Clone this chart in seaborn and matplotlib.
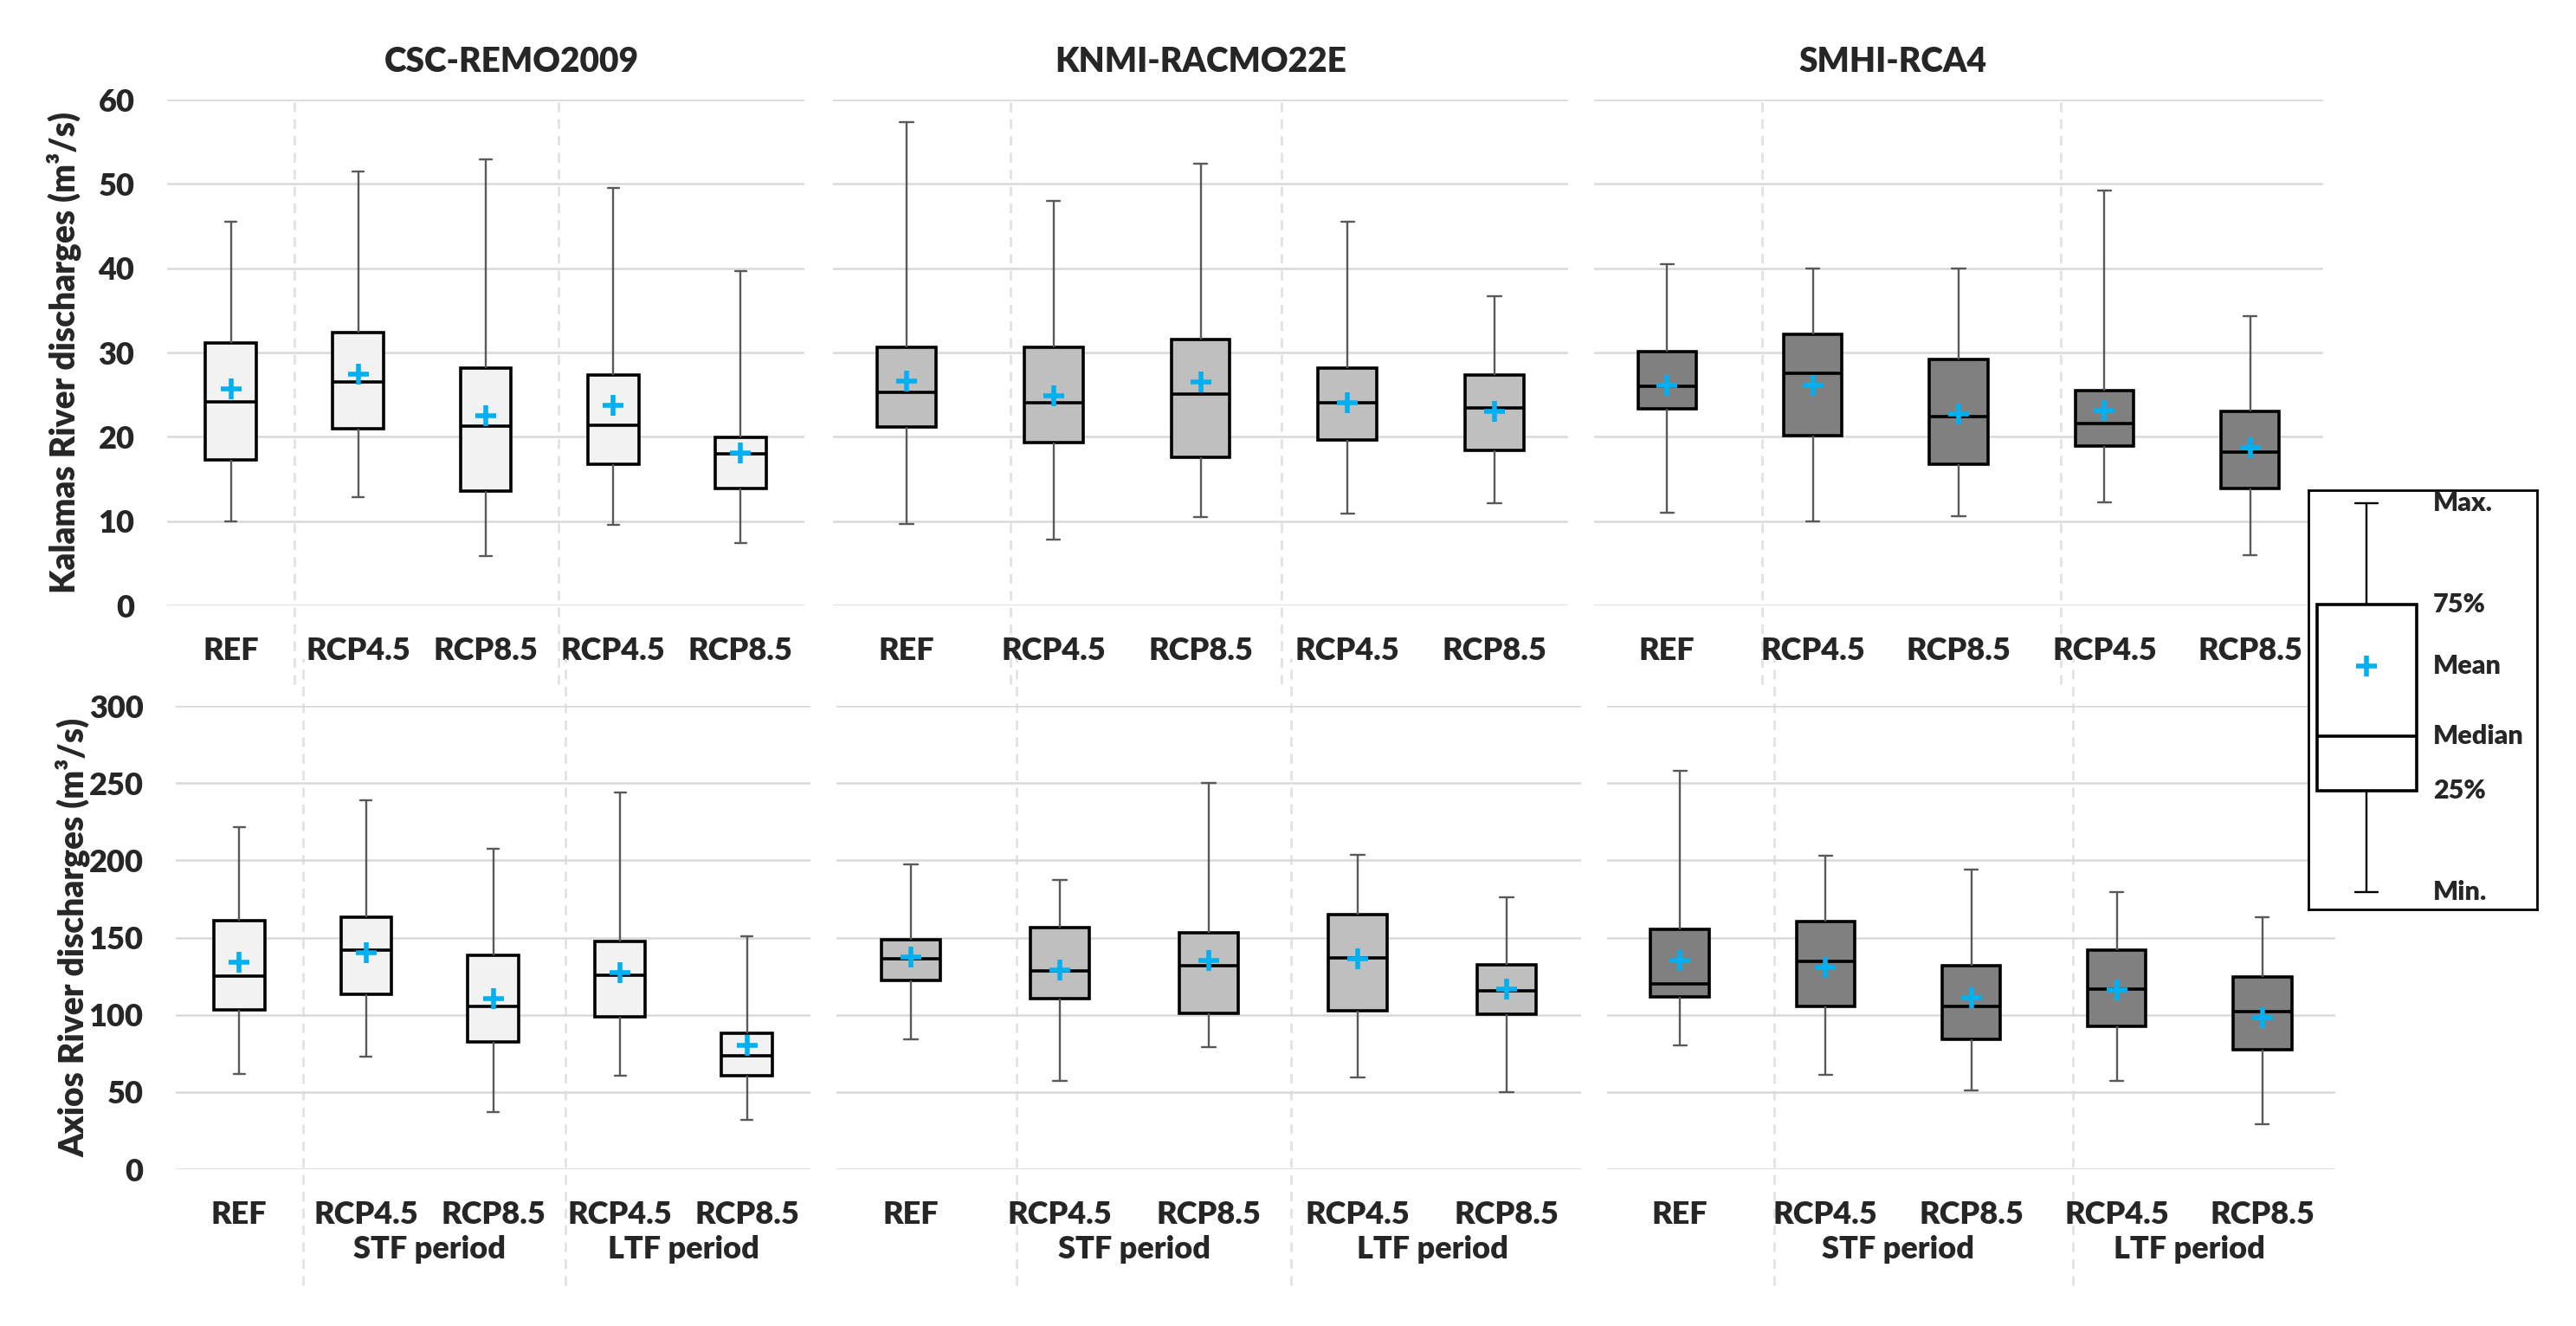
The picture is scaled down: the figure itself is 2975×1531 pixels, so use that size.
import pandas as pd
import matplotlib.pyplot as plt
import seaborn as sns

models = ["CSC-REMO2009", "KNMI-RACMO22E", "SMHI-RCA4"]
scenarios = ["REF", "STF RCP4.5", "STF RCP8.5", "LTF RCP4.5", "LTF RCP8.5"]
tick_labels = ["REF", "RCP4.5", "RCP8.5", "RCP4.5", "RCP8.5"]
period_labels = ["STF period", "LTF period"]
box_colors = ["#F2F2F2", "#BFBFBF", "#808080"]

# Kalamas River discharges (m3/s), one row per model
kalamas_min = [[10.0, 12.8, 5.9, 9.6, 7.4],
               [9.7, 7.8, 10.5, 10.9, 12.1],
               [11.0, 10.0, 10.6, 12.2, 6.0]]
kalamas_q1 = [[17.3, 21.0, 13.6, 16.7, 13.9],
              [21.2, 19.3, 17.6, 19.6, 18.4],
              [23.3, 20.1, 16.7, 18.9, 13.9]]
kalamas_median = [[24.1, 26.5, 21.3, 21.4, 18.0],
                  [25.3, 24.0, 25.1, 24.0, 23.4],
                  [26.0, 27.5, 22.4, 21.6, 18.2]]
kalamas_q3 = [[31.1, 32.4, 28.2, 27.3, 19.9],
              [30.6, 30.6, 31.5, 28.1, 27.3],
              [30.1, 32.2, 29.2, 25.5, 23.0]]
kalamas_max = [[45.5, 51.5, 52.9, 49.5, 39.7],
               [57.3, 48.0, 52.4, 45.5, 36.7],
               [40.5, 40.0, 40.0, 49.2, 34.3]]
kalamas_mean = [[25.7, 27.4, 22.5, 23.7, 18.1],
                [26.6, 24.9, 26.5, 24.0, 23.0],
                [26.1, 26.1, 22.7, 23.1, 18.7]]

# Axios River discharges (m3/s), one row per model
axios_min = [[61.8, 72.8, 37.0, 60.7, 32.0],
             [84.2, 57.0, 79.0, 59.7, 49.8],
             [80.4, 61.4, 51.2, 57.0, 29.2]]
axios_q1 = [[103.4, 113.1, 82.7, 98.5, 60.4],
            [122.2, 110.7, 101.0, 102.4, 100.2],
            [111.7, 105.7, 84.2, 92.8, 77.3]]
axios_median = [[125.2, 142.0, 105.4, 125.8, 73.6],
                [136.5, 128.3, 131.8, 136.8, 115.3],
                [120.0, 134.3, 105.5, 116.4, 102.1]]
axios_q3 = [[160.8, 163.3, 138.4, 147.5, 88.3],
            [148.4, 156.6, 153.0, 164.9, 132.1],
            [155.2, 160.5, 131.6, 142.0, 124.4]]
axios_max = [[221.7, 238.8, 207.4, 243.8, 151.1],
             [197.4, 187.4, 249.9, 203.4, 175.9],
             [257.9, 202.9, 193.8, 179.7, 162.9]]
axios_mean = [[134.0, 140.1, 110.3, 127.4, 80.0],
              [137.6, 129.1, 135.4, 136.0, 116.4],
              [135.4, 130.5, 111.2, 116.2, 98.3]]

# key box on the right (arbitrary units)
legend_stats = [0.0, 2.6, 4.0, 7.4, 10.0]
legend_mean = 5.8
legend_labels = ["Min.", "25%", "Median", "75%", "Max."]

sns.set_style("white")
plt.rcParams['font.family'] = ['Lato', 'DejaVu Sans']
plt.rcParams['font.weight'] = 'heavy'
WEIGHT = 'heavy'

GRID = "#D9D9D9"
WHISKER = "#595959"
MEAN = "#00B0F0"
TICK_SIZE = 26


def five_number_frame(mins, q1s, meds, q3s, maxs):
    '''Five-number summary as long-form data: with 5 values the quartiles fall exactly on q1/median/q3.'''
    rows = []
    for sc, vals in zip(scenarios, zip(mins, q1s, meds, q3s, maxs)):
        for v in vals:
            rows.append({"scenario": sc, "discharge": v})
    return pd.DataFrame(rows)


def draw_boxes(ax, data, means, color, order, whisker_color=WHISKER):
    sns.boxplot(data=data, x="scenario", y="discharge", order=order, ax=ax,
                whis=(0, 100), width=0.4, color=color, saturation=1,
                linecolor="black", linewidth=2.6, showfliers=False,
                boxprops=dict(edgecolor="black", linewidth=2.6),
                whiskerprops=dict(color=whisker_color, linewidth=1.7),
                capprops=dict(color=whisker_color, linewidth=1.7),
                medianprops=dict(color="black", linewidth=2.6),
                capwidths=0.09)
    mean_df = pd.DataFrame({"scenario": order, "mean": means})
    sns.stripplot(data=mean_df, x="scenario", y="mean", order=order, ax=ax,
                  jitter=False, marker="+", size=17, linewidth=4,
                  color=MEAN, zorder=6)


fig = plt.figure(figsize=(29.75, 15.31), dpi=100)
W, H = 2975, 1531

# pixel boxes of the plot areas: (left, right, top, bottom)
top_boxes = [(193, 929, 115, 699), (962, 1811, 115, 699), (1841, 2683, 115, 699)]
bottom_boxes = [(203, 936, 815, 1350), (966, 1826, 815, 1350), (1856, 2697, 815, 1350)]
title_x = [0.54, 0.5, 0.41]
separator_x = [[0.5, 2.57], [0.71, 2.55], [0.65, 2.7]]

rows = [
    dict(boxes=top_boxes, mins=kalamas_min, q1=kalamas_q1, med=kalamas_median,
         q3=kalamas_q3, mx=kalamas_max, mean=kalamas_mean, ylim=(0, 60), step=10,
         ylabel="Kalamas River discharges (m³/s)", sep=(-0.156, 1.0), top=True),
    dict(boxes=bottom_boxes, mins=axios_min, q1=axios_q1, med=axios_median,
         q3=axios_q3, mx=axios_max, mean=axios_mean, ylim=(0, 300), step=50,
         ylabel="Axios River discharges (m³/s)", sep=(-0.25, 1.103), top=False),
]

for row in rows:
    for i, model in enumerate(models):
        l, r, t, b = row["boxes"][i]
        ax = fig.add_axes([l / W, 1 - b / H, (r - l) / W, (b - t) / H])
        data = five_number_frame(row["mins"][i], row["q1"][i], row["med"][i],
                                 row["q3"][i], row["mx"][i])
        draw_boxes(ax, data, row["mean"][i], box_colors[i], scenarios)

        lo, hi = row["ylim"]
        ax.set_ylim(lo, hi)
        ax.set_xlim(-0.5, 4.5)
        ax.set_yticks(range(lo, hi + 1, row["step"]))
        ax.set_xticks(range(len(scenarios)), tick_labels)
        ax.grid(axis="y", color=GRID, linewidth=1.8)
        ax.grid(axis="x", visible=False)
        ax.set_axisbelow(True)
        sns.despine(ax=ax, left=True, bottom=True)
        ax.tick_params(axis="x", length=0, pad=26, labelsize=TICK_SIZE)
        ax.tick_params(axis="y", length=0, pad=27, labelsize=TICK_SIZE)
        for lab in ax.get_xticklabels() + ax.get_yticklabels():
            lab.set_fontweight(WEIGHT)
        ax.set_xlabel("")
        if i == 0:
            ax.set_ylabel(row["ylabel"], fontsize=28, fontweight=WEIGHT)
            ax.yaxis.set_label_coords(-0.135, 0.5)
        else:
            ax.set_ylabel("")
            ax.tick_params(axis="y", labelleft=False)

        for xs in separator_x[i]:
            ax.axvline(xs, ymin=row["sep"][0], ymax=row["sep"][1], clip_on=False,
                       color="#E2E2E2", linewidth=2, linestyle=(0, (4, 3)), zorder=0)

        if row["top"]:
            ax.set_title(model, x=title_x[i], y=1.06, va="center",
                         fontsize=28, fontweight=WEIGHT)
        else:
            trans = ax.get_xaxis_transform()
            for xp, lab in zip([1.5, 3.5], period_labels):
                ax.text(xp, -0.172, lab, transform=trans, ha="center", va="center",
                        fontsize=TICK_SIZE, fontweight=WEIGHT)

# key box
lax = fig.add_axes([2666 / W, 1 - 1050 / H, 264 / W, 484 / H])
key_df = pd.DataFrame({"scenario": ["key"] * 5, "discharge": legend_stats})
draw_boxes(lax, key_df, [legend_mean], "white", ["key"], whisker_color="black")
lax.set_xlim(-0.233, 0.684)
lax.set_ylim(-0.445, 10.33)
lax.set_xticks([])
lax.set_yticks([])
lax.set_xlabel("")
lax.set_ylabel("")
for sp in lax.spines.values():
    sp.set_visible(True)
    sp.set_color("black")
    sp.set_linewidth(2)
ytr = lax.get_yaxis_transform()
for val, lab in zip(legend_stats, legend_labels):
    lax.text(0.545, val, lab, transform=ytr, ha="left", va="center", fontsize=22, fontweight=WEIGHT)
lax.text(0.545, legend_mean, "Mean", transform=ytr, ha="left", va="center", fontsize=22, fontweight=WEIGHT)

fig.savefig("out.png", dpi=100)
